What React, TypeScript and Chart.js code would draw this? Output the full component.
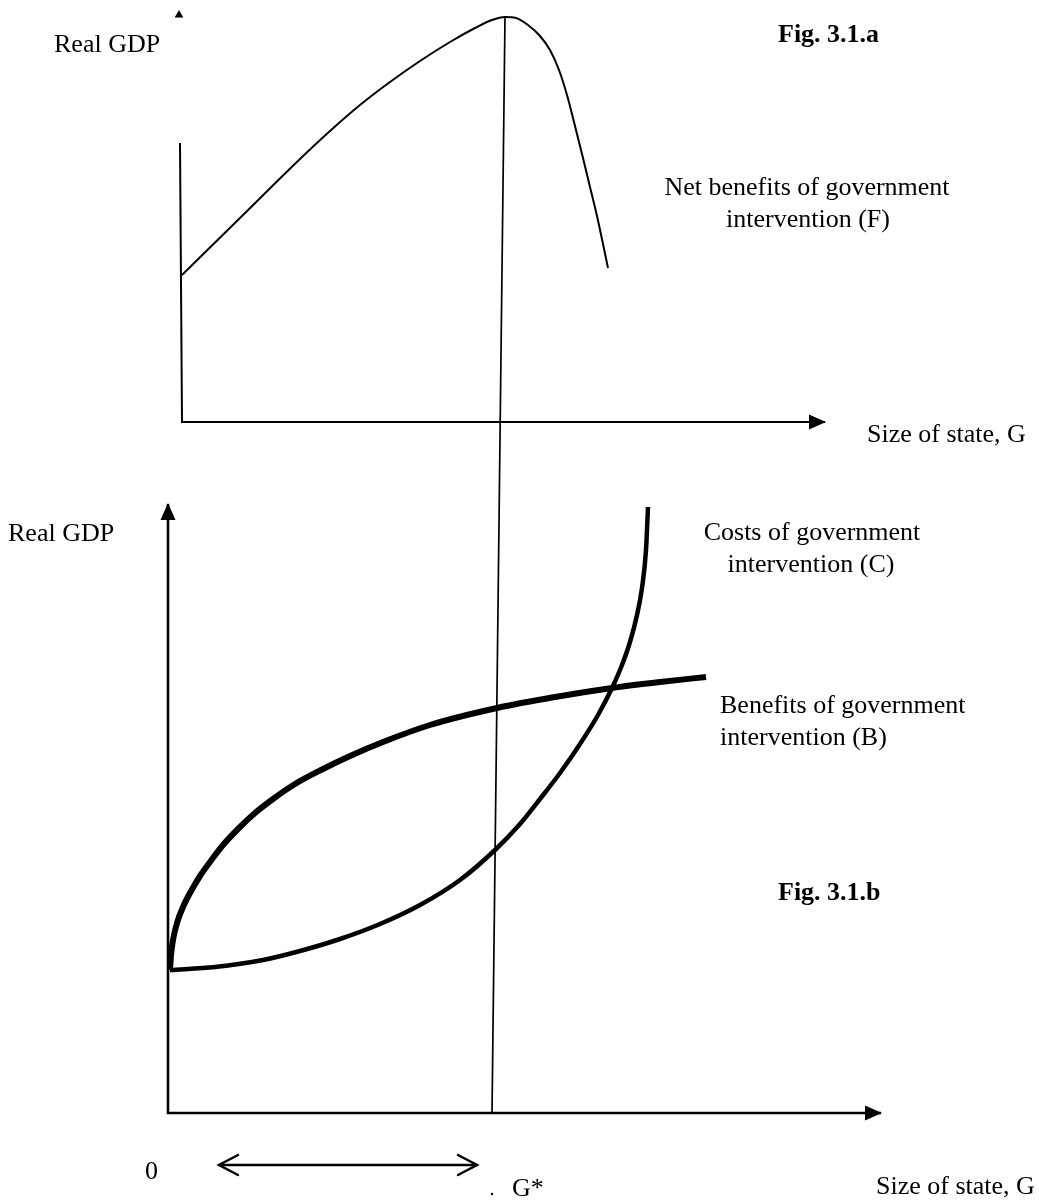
import React, { useEffect, useRef } from "react";
import { Chart, registerables } from "chart.js";

Chart.register(...registerables);

// ---------- DATA ----------
// Fig. 3.1.a : net benefits curve F (G, real GDP) in panel units
const netBenefitsG = [0, 1.16, 2.36, 2.96, 3.56, 4.16, 4.76, 5.36, 5.86, 6.2, 6.46, 6.68, 6.92, 7.16, 7.36, 7.54, 7.7, 7.86, 8.02, 8.16, 8.3, 8.42, 8.52];
const netBenefitsGDP = [2.94, 4.08, 5.26, 5.82, 6.34, 6.8, 7.22, 7.6, 7.88, 8.04, 8.1, 8.08, 7.94, 7.72, 7.44, 7.04, 6.54, 5.92, 5.28, 4.7, 4.12, 3.56, 3.08];

// Fig. 3.1.b : costs curve C
const costsG = [0.04, 0.94, 1.9, 2.64, 3.44, 4.24, 5.04, 5.84, 6.54, 7.04, 7.44, 7.84, 8.24, 8.6, 8.88, 9.08, 9.24, 9.38, 9.48, 9.56, 9.6];
const costsGDP = [2.86, 2.92, 3.06, 3.24, 3.48, 3.78, 4.16, 4.66, 5.26, 5.78, 6.28, 6.8, 7.38, 7.96, 8.5, 8.96, 9.42, 9.96, 10.5, 11.26, 12.12];

// Fig. 3.1.b : benefits curve B
const benefitsG = [0.04, 0.06, 0.1, 0.18, 0.3, 0.44, 0.64, 0.84, 1.1, 1.44, 1.74, 2.1, 2.54, 3.1, 3.64, 4.3, 5.24, 6.58, 7.74, 8.88, 9.84, 10.76];
const benefitsGDP = [2.86, 3.16, 3.46, 3.8, 4.12, 4.4, 4.74, 5.02, 5.36, 5.72, 6.0, 6.28, 6.58, 6.88, 7.14, 7.42, 7.76, 8.1, 8.32, 8.5, 8.62, 8.72];

// Optimal size of state line G* (drawn across both panels, bottom-panel units)
const gStarLineG = [6.48, 6.74];
const gStarLineGDP = [0, 21.92];

// Axes (panel units)
const topAxisG = [-0.04, 0, 12.86];
const topAxisGDP = [5.58, 0, 0];
const topStubG = [-0.06];
const topStubGDP = [8.14];
const bottomAxisG = [0, 0, 14.26];
const bottomAxisGDP = [12.18, 0, 0];

// Interval 0 .. G* marker under the axis
const intervalG = [1.02, 6.18];
const intervalGDP = [-1.04, -1.04];
const dotG = [6.48];
const dotGDP = [-1.62];

// ---------- LAYOUT ----------
const W = 1039;
const H = 1201;
const UNIT = 50; // px per panel unit
const TOP_ORIGIN = { x: 182, y: 422 };
const BOTTOM_ORIGIN = { x: 168, y: 1113 };
const FONT = '"Liberation Serif", "Times New Roman", Times, serif';
const FONT_SIZE = 26;

type Label = { text: string; x: number; y: number; align: CanvasTextAlign; bold?: boolean };
const LABELS: Label[] = [
  { text: "Real GDP", x: 54, y: 52, align: "left" },
  { text: "Fig. 3.1.a", x: 778, y: 42, align: "left", bold: true },
  { text: "Net benefits of government", x: 807, y: 195, align: "center" },
  { text: "intervention (F)", x: 808, y: 227, align: "center" },
  { text: "Size of state, G", x: 867, y: 442, align: "left" },
  { text: "Real GDP", x: 8, y: 541, align: "left" },
  { text: "Costs of government", x: 812, y: 540, align: "center" },
  { text: "intervention (C)", x: 811, y: 572, align: "center" },
  { text: "Benefits of government", x: 720, y: 713, align: "left" },
  { text: "intervention (B)", x: 720, y: 745, align: "left" },
  { text: "Fig. 3.1.b", x: 778, y: 900, align: "left", bold: true },
  { text: "0", x: 145, y: 1179, align: "left" },
  { text: "G*", x: 512, y: 1196, align: "left" },
  { text: "Size of state, G", x: 876, y: 1194, align: "left" },
];

const zip = (xs: number[], ys: number[]) => xs.map((x, i) => ({ x, y: ys[i] }));

function drawArrow(ctx: CanvasRenderingContext2D, from: any, to: any, kind: string) {
  const ang = Math.atan2(to.y - from.y, to.x - from.x);
  const dx = Math.cos(ang);
  const dy = Math.sin(ang);
  const px = -dy;
  const py = dx;
  ctx.save();
  ctx.fillStyle = "#000";
  ctx.strokeStyle = "#000";
  if (kind === "filled") {
    const L = 16;
    const hw = 7.5;
    ctx.beginPath();
    ctx.moveTo(to.x + dx * 1, to.y + dy * 1);
    ctx.lineTo(to.x - dx * L + px * hw, to.y - dy * L + py * hw);
    ctx.lineTo(to.x - dx * L - px * hw, to.y - dy * L - py * hw);
    ctx.closePath();
    ctx.fill();
  } else {
    const L = 19;
    const hw = 10;
    ctx.lineWidth = 2.5;
    ctx.lineCap = "round";
    ctx.lineJoin = "miter";
    ctx.beginPath();
    ctx.moveTo(to.x - dx * L + px * hw, to.y - dy * L + py * hw);
    ctx.lineTo(to.x, to.y);
    ctx.lineTo(to.x - dx * L - px * hw, to.y - dy * L - py * hw);
    ctx.stroke();
  }
  ctx.restore();
}

const overlayPlugin = {
  id: "overlay",
  afterDatasetsDraw(chart: any) {
    const ctx: CanvasRenderingContext2D = chart.ctx;
    chart.data.datasets.forEach((ds: any, i: number) => {
      const pts = chart.getDatasetMeta(i).data;
      if (!pts || pts.length < 2) return;
      if (ds.arrowEnd) drawArrow(ctx, pts[pts.length - 2], pts[pts.length - 1], ds.arrowEnd);
      if (ds.arrowStart) drawArrow(ctx, pts[1], pts[0], ds.arrowStart);
    });
    ctx.save();
    ctx.fillStyle = "#000";
    ctx.textBaseline = "alphabetic";
    LABELS.forEach((l) => {
      ctx.font = `${l.bold ? "bold " : ""}${FONT_SIZE}px ${FONT}`;
      ctx.textAlign = l.align;
      ctx.fillText(l.text, l.x, l.y);
    });
    ctx.restore();
  },
};

const scale = (min: number, max: number) => ({
  type: "linear" as const,
  display: false,
  min,
  max,
  bounds: "data" as const,
  grace: 0,
});

const line = (extra: any) => ({
  showLine: true,
  borderColor: "#000",
  backgroundColor: "#000",
  pointRadius: 0,
  pointHoverRadius: 0,
  fill: false,
  clip: false,
  ...extra,
});

export default function App() {
  const ref = useRef<HTMLCanvasElement>(null);

  useEffect(() => {
    document.body.style.margin = "0";
    const canvas = ref.current!;
    const chart = new Chart(canvas, {
      type: "scatter",
      data: {
        datasets: [
          line({
            label: "top axes",
            data: zip(topAxisG, topAxisGDP),
            xAxisID: "xt",
            yAxisID: "yt",
            borderWidth: 2,
            tension: 0,
            borderJoinStyle: "miter",
            arrowEnd: "filled",
          }),
          {
            label: "top axis stub",
            data: zip(topStubG, topStubGDP),
            xAxisID: "xt",
            yAxisID: "yt",
            showLine: false,
            pointStyle: "triangle",
            pointRadius: 5,
            pointHoverRadius: 5,
            borderWidth: 0,
            backgroundColor: "#000",
            borderColor: "#000",
            clip: false,
          },
          line({
            label: "Net benefits of government intervention (F)",
            data: zip(netBenefitsG, netBenefitsGDP),
            xAxisID: "xt",
            yAxisID: "yt",
            borderWidth: 2,
            cubicInterpolationMode: "monotone",
            tension: 0.4,
          }),
          line({
            label: "bottom axes",
            data: zip(bottomAxisG, bottomAxisGDP),
            xAxisID: "xb",
            yAxisID: "yb",
            borderWidth: 2.6,
            tension: 0,
            borderJoinStyle: "miter",
            arrowStart: "filled",
            arrowEnd: "filled",
          }),
          line({
            label: "Costs of government intervention (C)",
            data: zip(costsG, costsGDP),
            xAxisID: "xb",
            yAxisID: "yb",
            borderWidth: 4.5,
            cubicInterpolationMode: "monotone",
            tension: 0.4,
          }),
          line({
            label: "Benefits of government intervention (B)",
            data: zip(benefitsG, benefitsGDP),
            xAxisID: "xb",
            yAxisID: "yb",
            borderWidth: 6,
            cubicInterpolationMode: "monotone",
            tension: 0.4,
          }),
          line({
            label: "G*",
            data: zip(gStarLineG, gStarLineGDP),
            xAxisID: "xb",
            yAxisID: "yb",
            borderWidth: 1.7,
            tension: 0,
          }),
          line({
            label: "0 to G*",
            data: zip(intervalG, intervalGDP),
            xAxisID: "xb",
            yAxisID: "yb",
            borderWidth: 2.4,
            tension: 0,
            arrowStart: "open",
            arrowEnd: "open",
          }),
          {
            label: "dot",
            data: zip(dotG, dotGDP),
            xAxisID: "xb",
            yAxisID: "yb",
            showLine: false,
            pointRadius: 1.2,
            pointHoverRadius: 1.2,
            borderWidth: 0,
            backgroundColor: "#000",
            clip: false,
          },
        ] as any,
      },
      options: {
        animation: false,
        responsive: false,
        maintainAspectRatio: false,
        devicePixelRatio: 1,
        events: [],
        layout: { padding: 0, autoPadding: false },
        plugins: {
          legend: { display: false },
          tooltip: { enabled: false },
          title: { display: false },
        },
        scales: {
          xt: { ...scale(-TOP_ORIGIN.x / UNIT, (W - TOP_ORIGIN.x) / UNIT), axis: "x" },
          yt: { ...scale(-(H - TOP_ORIGIN.y) / UNIT, TOP_ORIGIN.y / UNIT), axis: "y" },
          xb: { ...scale(-BOTTOM_ORIGIN.x / UNIT, (W - BOTTOM_ORIGIN.x) / UNIT), axis: "x" },
          yb: { ...scale(-(H - BOTTOM_ORIGIN.y) / UNIT, BOTTOM_ORIGIN.y / UNIT), axis: "y" },
        } as any,
      },
      plugins: [overlayPlugin],
    });
    return () => chart.destroy();
  }, []);

  return (
    <div style={{ position: "absolute", left: 0, top: 0, width: W, height: H, background: "#fff" }}>
      <canvas ref={ref} width={W} height={H} style={{ display: "block", width: W, height: H }} />
    </div>
  );
}
